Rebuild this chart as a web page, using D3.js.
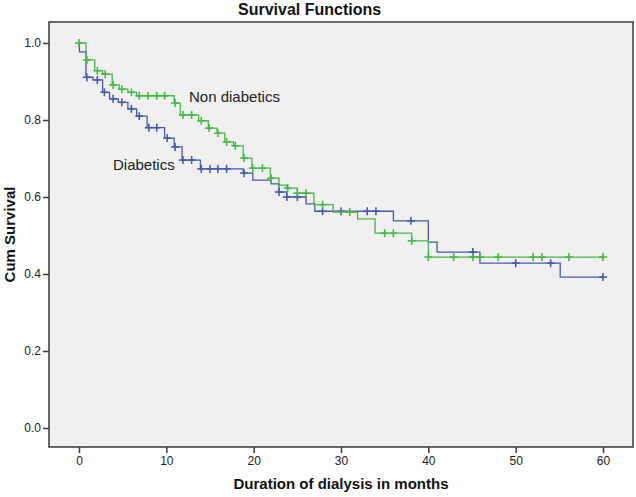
<!DOCTYPE html>
<html>
<head>
<meta charset="utf-8">
<script src="https://cdn.jsdelivr.net/npm/d3@7"></script>
<style>
  html, body { margin: 0; padding: 0; background: #ffffff; }
  svg { display: block; font-family: "Liberation Sans", Arial, sans-serif; }
</style>
</head>
<body>
<svg id="chart" width="636" height="497"></svg>
<script>
// ---- Data ----
const xTicks = [0, 10, 20, 30, 40, 50, 60];
const yTicks = [0.0, 0.2, 0.4, 0.6, 0.8, 1.0];

// Non diabetics: step times and survival after each step
const nonDiabTimes = [0.8, 1.8, 2.7, 3.8, 4.6, 5.6, 6.6, 10.9, 11.6, 13.7, 14.8, 15.8, 16.7, 17.7, 18.8, 19.8, 21.9, 22.9, 23.8, 25.0, 26.9, 29.1, 31.9, 33.9, 38.1, 40.0];
const nonDiabSurv  = [0.956, 0.928, 0.919, 0.891, 0.880, 0.872, 0.863, 0.844, 0.813, 0.798, 0.779, 0.766, 0.743, 0.733, 0.701, 0.675, 0.649, 0.631, 0.623, 0.610, 0.580, 0.561, 0.543, 0.506, 0.486, 0.444];
const nonDiabCensored = [0, 0.9, 2.1, 3.0, 3.9, 4.9, 6.0, 6.9, 7.9, 8.9, 9.8, 11.0, 11.9, 12.9, 14.0, 14.9, 15.9, 16.9, 17.9, 18.9, 19.9, 21.0, 22.0, 23.9, 25.0, 26.0, 27.9, 31.0, 35.0, 36.0, 38.1, 40.0, 42.9, 45.1, 45.9, 48.0, 52.0, 53.0, 56.1, 60];

// Diabetics
const diabTimes = [0.05, 0.8, 1.6, 2.7, 3.5, 4.5, 5.6, 6.6, 7.8, 9.8, 10.9, 11.8, 13.9, 18.8, 19.9, 22.0, 22.9, 23.8, 26.0, 27.0, 36.0, 40.0, 41.0, 45.9, 55.1];
const diabSurv  = [0.977, 0.911, 0.904, 0.872, 0.855, 0.846, 0.829, 0.810, 0.780, 0.753, 0.730, 0.696, 0.673, 0.662, 0.644, 0.634, 0.613, 0.600, 0.582, 0.563, 0.538, 0.483, 0.457, 0.428, 0.392];
const diabCensored = [0.9, 2.1, 2.9, 3.9, 4.9, 6.0, 6.9, 8.0, 8.9, 10.1, 11.0, 11.9, 12.9, 14.0, 15.0, 15.9, 16.9, 18.9, 22.9, 23.8, 25.0, 27.9, 30.0, 33.0, 34.0, 38.0, 45.1, 50.0, 54.0, 60];

const maxTime = 60;

// ---- Layout ----
const svg = d3.select("#chart");
const frame = { left: 49, right: 633, top: 22, bottom: 447 };
const x = d3.scaleLinear().domain([0, 60]).range([79, 603]);
const y = d3.scaleLinear().domain([0, 1]).range([428, 43]);

// plot background & frame
svg.append("rect")
  .attr("x", frame.left).attr("y", frame.top)
  .attr("width", frame.right - frame.left).attr("height", frame.bottom - frame.top)
  .attr("fill", "#f0f0f0").attr("stroke", "#3a3a3a").attr("stroke-width", 1.5);

// axes
const xAxis = svg.append("g").attr("transform", `translate(0,${frame.bottom})`)
  .call(d3.axisBottom(x).tickValues(xTicks).tickFormat(d3.format("d")).tickSize(6).tickPadding(3));
const yAxis = svg.append("g").attr("transform", `translate(${frame.left},0)`)
  .call(d3.axisLeft(y).tickValues(yTicks).tickFormat(d3.format(".1f")).tickSize(6).tickPadding(2));
[xAxis, yAxis].forEach(g => {
  g.select(".domain").remove();
  g.selectAll("line").attr("stroke", "#3a3a3a").attr("stroke-width", 1.5);
  g.selectAll("text").attr("fill", "#222").style("font-size", "12px")
    .style("font-family", "'Liberation Sans', Arial, sans-serif");
});

// titles
svg.append("text").attr("x", 238).attr("y", 15)
  .style("font-size", "16px").style("font-weight", "bold").attr("fill", "#111")
  .text("Survival Functions");
svg.append("text").attr("x", 341).attr("y", 489)
  .attr("text-anchor", "middle")
  .style("font-size", "15px").style("font-weight", "bold").attr("fill", "#111")
  .text("Duration of dialysis in months");
svg.append("text")
  .attr("transform", `translate(15,${(frame.top + frame.bottom) / 2}) rotate(-90)`)
  .attr("text-anchor", "middle")
  .style("font-size", "15px").style("font-weight", "bold").attr("fill", "#111")
  .text("Cum Survival");

// curves
function drawCurve(times, surv, censored, color) {
  const pts = [[0, 1]].concat(times.map((t, i) => [t, surv[i]]));
  pts.push([maxTime, surv[surv.length - 1]]);
  const line = d3.line().x(d => x(d[0])).y(d => y(d[1])).curve(d3.curveStepAfter);
  svg.append("path").datum(pts).attr("d", line)
    .attr("fill", "none").attr("stroke", color).attr("stroke-width", 1.3);
  const survAt = c => {
    let s = 1;
    for (let i = 0; i < times.length; i++) if (times[i] <= c) s = surv[i];
    return s;
  };
  const g = svg.append("g").attr("stroke", color).attr("stroke-width", 1.6);
  censored.forEach(c => {
    const cx = x(c), cy = y(survAt(c));
    g.append("line").attr("x1", cx - 4).attr("x2", cx + 4).attr("y1", cy).attr("y2", cy);
    g.append("line").attr("x1", cx).attr("x2", cx).attr("y1", cy - 4).attr("y2", cy + 4);
  });
}
drawCurve(diabTimes, diabSurv, diabCensored, "#4659ad");
drawCurve(nonDiabTimes, nonDiabSurv, nonDiabCensored, "#45b845");

// curve labels
svg.append("text").attr("x", 189).attr("y", 102)
  .style("font-size", "15px").attr("fill", "#222").text("Non diabetics");
svg.append("text").attr("x", 113).attr("y", 170)
  .style("font-size", "15px").attr("fill", "#222").text("Diabetics");
</script>
</body>
</html>
